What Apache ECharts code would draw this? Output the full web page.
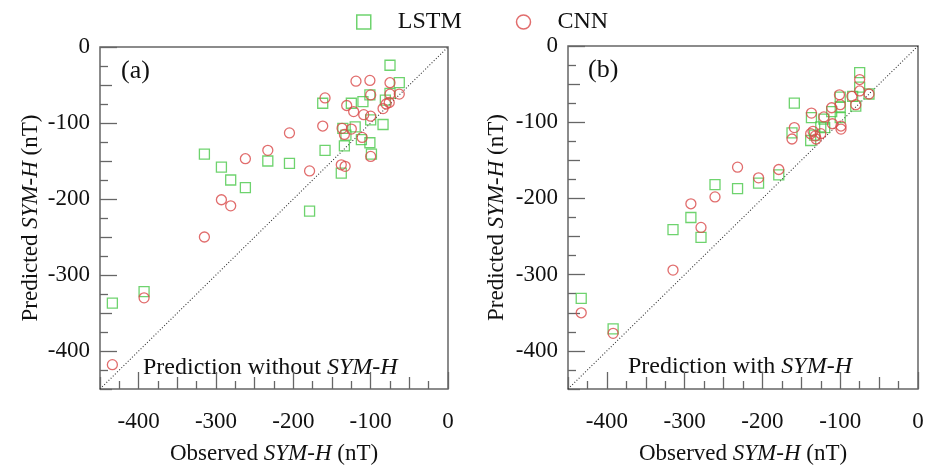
<!DOCTYPE html>
<html>
<head>
<meta charset="utf-8">
<script src="https://cdn.jsdelivr.net/npm/echarts@6/dist/echarts.min.js"></script>
<style>
html, body { margin: 0; padding: 0; background: #fff; }
#chart { width: 932px; height: 470px; }
</style>
</head>
<body>
<div id="chart"></div>
<script>
// 坐标范围与刻度
var axisMin = -450;
var axisMax = 0;
var majorTicks = [-400, -300, -200, -100, 0];
var midTicks = [-450, -350, -250, -150, -50];
var minorTicks = [-425, -375, -325, -275, -225, -175, -125, -75, -25];
var diagLine = [[-450, -450], [0, 0]];

// (a) 不含 SYM-H 的预测 [观测, 预测]
var lstmA = [[-434, -337], [-393, -322], [-315, -141], [-293, -158], [-281, -175], [-262, -185],
    [-233, -150], [-205, -153], [-179, -216], [-162, -74], [-159, -136], [-138, -166], [-136, -107],
    [-134, -130], [-132, -116], [-125, -74], [-120, -105], [-112, -122], [-110, -72], [-101, -63],
    [-101, -126], [-100, -96], [-99, -141], [-84, -102], [-81, -70], [-75, -24], [-75, -61], [-63, -47]];
var cnnA = [[-434, -418], [-393, -330], [-315, -250], [-293, -201], [-281, -209], [-262, -147],
    [-233, -136], [-205, -113], [-179, -163], [-162, -104], [-159, -67], [-138, -155], [-137, -107],
    [-134, -115], [-133, -157], [-131, -77], [-125, -108], [-122, -85], [-119, -45], [-111, -119],
    [-109, -89], [-101, -44], [-100, -63], [-100, -91], [-100, -144], [-84, -81], [-80, -75],
    [-76, -73], [-75, -47], [-75, -62], [-63, -62]];

// (b) 含 SYM-H 的预测
var lstmB = [[-433, -331], [-392, -371], [-315, -241], [-292, -225], [-279, -251], [-261, -182],
    [-232, -187], [-205, -180], [-179, -169], [-162, -114], [-159, -75], [-138, -124], [-137, -94],
    [-133, -117], [-125, -106], [-121, -96], [-120, -107], [-111, -86], [-100, -67], [-100, -80],
    [-100, -94], [-84, -66], [-80, -79], [-75, -35], [-75, -54], [-63, -63]];
var cnnB = [[-433, -350], [-392, -377], [-315, -294], [-292, -207], [-279, -238], [-261, -198],
    [-232, -159], [-205, -173], [-179, -162], [-162, -122], [-159, -107], [-138, -115], [-137, -88],
    [-135, -112], [-132, -118], [-131, -122], [-125, -115], [-121, -93], [-111, -81], [-110, -102],
    [-101, -64], [-100, -77], [-99, -105], [-99, -109], [-85, -66], [-80, -77], [-75, -44],
    [-75, -59], [-63, -63]];

var green = '#4ac84a';
var red = '#d94848';
var serif = 'Liberation Serif';

var nameRich = {
    n: { fontFamily: serif, fontSize: 23, color: '#111' },
    i: { fontFamily: serif, fontSize: 23, color: '#111', fontStyle: 'italic' }
};

// 生成一组叠加的坐标轴：长刻度带标签、中刻度、短刻度
function makeAxes (dim, gridIndex, name, nameGap) {
    var tickSets = [[majorTicks, 17], [midTicks, 12], [minorTicks, 8]];
    return tickSets.map(function (t, k) {
        return {
            type: 'value',
            gridIndex: gridIndex,
            position: dim === 'x' ? 'bottom' : 'left',
            min: axisMin,
            max: axisMax,
            interval: 50,
            name: k === 0 ? name : '',
            nameLocation: 'middle',
            nameGap: nameGap,
            nameTextStyle: { rich: nameRich },
            axisLine: { show: false, onZero: false },
            splitLine: { show: false },
            axisTick: {
                show: true,
                inside: true,
                length: t[1],
                customValues: t[0],
                lineStyle: { color: '#666', width: 1.3 }
            },
            axisLabel: {
                show: k === 0,
                customValues: majorTicks,
                margin: dim === 'x' ? 21 : 10,
                fontFamily: serif,
                fontSize: 23,
                color: '#111'
            }
        };
    });
}

var chart = echarts.init(document.getElementById('chart'));

var xName = '{n|Observed }{i|SYM-H}{n| (nT)}';
var yName = '{n|Predicted }{i|SYM-H}{n| (nT)}';

function scatter (name, data, idx, symbol, color) {
    return {
        name: name,
        type: 'scatter',
        xAxisIndex: idx,
        yAxisIndex: idx,
        symbol: symbol,
        symbolSize: 10,
        itemStyle: { color: 'transparent', borderColor: color, borderWidth: 1.3 },
        data: data,
        z: 3
    };
}

function diag (idx) {
    return {
        type: 'line',
        xAxisIndex: idx,
        yAxisIndex: idx,
        data: diagLine,
        symbol: 'none',
        silent: true,
        lineStyle: { color: '#333', width: 1.1, type: [1, 2] },
        z: 2
    };
}

var option = {
    animation: false,
    backgroundColor: '#fff',
    grid: [
        { left: 100, top: 47, width: 348, height: 348, show: true, borderColor: '#666', borderWidth: 1.5 },
        { left: 568, top: 46, width: 350, height: 348, show: true, borderColor: '#666', borderWidth: 1.5 }
    ],
    legend: {
        left: 351,
        top: 5,
        itemWidth: 14,
        itemHeight: 14,
        itemGap: 54,
        textStyle: { fontFamily: serif, fontSize: 24, color: '#111', padding: [0, 0, 0, 22] },
        data: [
            { name: 'LSTM', icon: 'rect', itemStyle: { color: 'transparent', borderColor: green, borderWidth: 1.5 } },
            { name: 'CNN', icon: 'circle', itemStyle: { color: 'transparent', borderColor: red, borderWidth: 1.5 } }
        ]
    },
    xAxis: makeAxes('x', 0, xName, 53).concat(makeAxes('x', 1, xName, 53)),
    yAxis: makeAxes('y', 0, yName, 58).concat(makeAxes('y', 1, yName, 60)),
    graphic: [
        { type: 'text', left: 121, top: 58, style: { text: '(a)', font: '26px "Liberation Serif"', fill: '#111' } },
        { type: 'text', left: 588, top: 57, style: { text: '(b)', font: '26px "Liberation Serif"', fill: '#111' } },
        {
            type: 'text', left: 143, top: 356,
            style: {
                text: '{n|Prediction without }{i|SYM-H}',
                rich: {
                    n: { fontFamily: serif, fontSize: 24, fill: '#111' },
                    i: { fontFamily: serif, fontSize: 24, fill: '#111', fontStyle: 'italic' }
                }
            }
        },
        {
            type: 'text', left: 628, top: 355,
            style: {
                text: '{n|Prediction with }{i|SYM-H}',
                rich: {
                    n: { fontFamily: serif, fontSize: 24, fill: '#111' },
                    i: { fontFamily: serif, fontSize: 24, fill: '#111', fontStyle: 'italic' }
                }
            }
        }
    ],
    series: [
        diag(0),
        diag(3),
        scatter('LSTM', lstmA, 0, 'rect', green),
        scatter('CNN', cnnA, 0, 'circle', red),
        scatter('LSTM', lstmB, 3, 'rect', green),
        scatter('CNN', cnnB, 3, 'circle', red)
    ]
};

chart.setOption(option);
window.onresize = function () {
    chart.resize();
};
</script>
</body>
</html>
